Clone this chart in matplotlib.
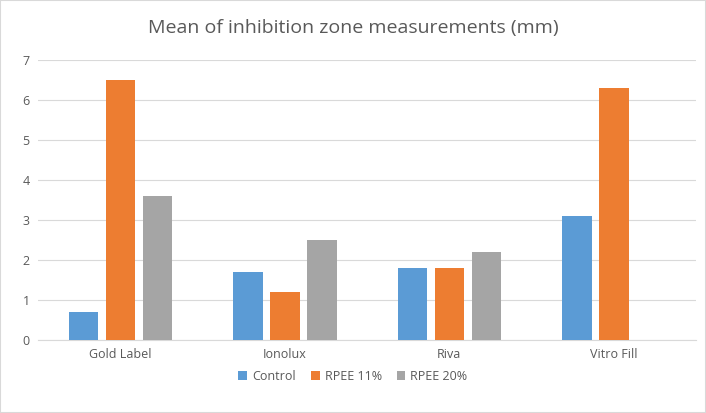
import matplotlib
matplotlib.use("Agg")
import matplotlib.pyplot as plt
import numpy as np

categories = ["Gold Label", "Ionolux", "Riva", "Vitro Fill"]
control = [0.7, 1.7, 1.8, 3.1]
rpee11 = [6.5, 1.2, 1.8, 6.3]
rpee20 = [3.6, 2.5, 2.2, 0]
series = [("Control", control, "#5B9BD5"), ("RPEE 11%", rpee11, "#ED7D31"), ("RPEE 20%", rpee20, "#A5A5A5")]

plt.rcParams['font.family'] = ['Open Sans', 'DejaVu Sans']
fig = plt.figure(figsize=(7.06, 4.13), dpi=100)
ax = fig.add_axes([0.054, 0.177, 0.932, 0.678])
x = np.arange(len(categories))
w = 0.18
step = 0.225
for i, (name, vals, c) in enumerate(series):
    ax.bar(x + (i - 1) * step, vals, w, color=c, label=name, zorder=3)
ax.set_xlim(-0.5, 3.5)
ax.set_ylim(0, 7)
ax.set_yticks(range(8))
ax.set_xticks(x)
ax.set_xticklabels(categories)
ax.grid(axis='y', color='#D9D9D9', linewidth=0.8, zorder=0)
for s in ['top', 'right', 'left']:
    ax.spines[s].set_visible(False)
ax.spines['bottom'].set_color('#D9D9D9')
ax.tick_params(length=0, labelsize=9, colors='#595959', pad=6)
fig.suptitle("Mean of inhibition zone measurements (mm)", y=0.955, fontsize=14, color='#595959')
fig.legend(loc='lower center', bbox_to_anchor=(0.5, 0.045), ncol=3, frameon=False,
           fontsize=9, handlelength=0.7, handleheight=0.7, columnspacing=1.2, handletextpad=0.4,
           labelcolor='#595959')
fig.patches.append(matplotlib.patches.Rectangle((0, 0), 1, 1, transform=fig.transFigure,
                   fill=False, edgecolor='#D9D9D9', linewidth=1.5))
fig.savefig("out.png", dpi=100)
